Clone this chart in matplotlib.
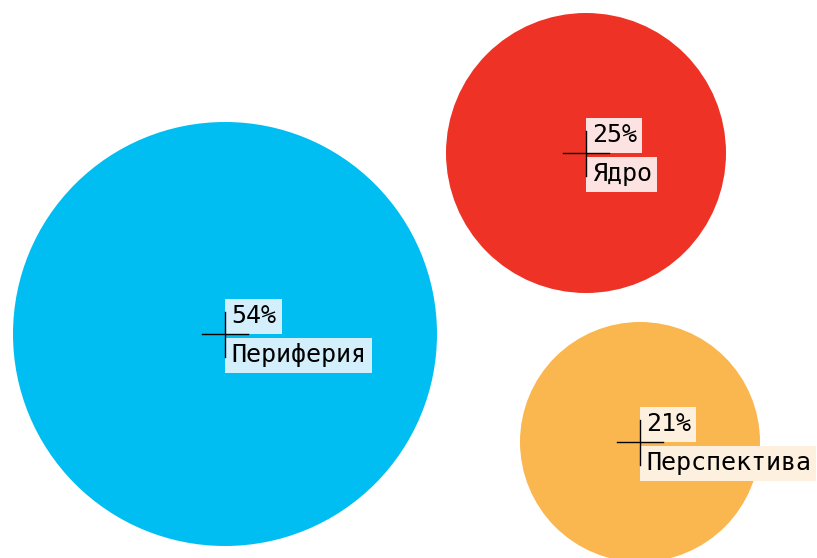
import matplotlib.pyplot as plt
from matplotlib.patches import Circle

names = ['Периферия', 'Ядро', 'Перспектива']
shares = [54, 25, 21]
colors = ['#00BEF2', '#EE3326', '#FAB74F']
tints = ['#D2EFFB', '#FCE3E1', '#FEF0DE']

# layout in pixel coordinates (x, y, radius)
layout = [(225, 334, 212), (586, 153, 140), (640, 442, 120)]

fig = plt.figure(figsize=(8.17, 5.58), dpi=100)
ax = fig.add_axes([0, 0, 1, 1])
ax.set_xlim(0, 817)
ax.set_ylim(558, 0)
ax.set_aspect('equal')
ax.axis('off')

for name, share, c, t, (x, y, r) in zip(names, shares, colors, tints, layout):
    ax.add_patch(Circle((x, y), r, color=c, lw=0))
    ax.plot([x - 23, x + 23], [y, y], color='black', lw=1, zorder=3)
    ax.plot([x, x], [y - 22, y + 23], color='black', lw=1, zorder=3)
    box = dict(boxstyle='square,pad=0.22', fc=t, ec='none')
    ax.text(x + 6, y - 18, f'{share}%', fontsize=18, family='DejaVu Sans Mono',
            ha='left', va='center', bbox=box, zorder=2)
    ax.text(x + 6, y + 21, name, fontsize=18, family='DejaVu Sans Mono',
            ha='left', va='center', bbox=box, zorder=2)

fig.savefig('out.png', dpi=100)
